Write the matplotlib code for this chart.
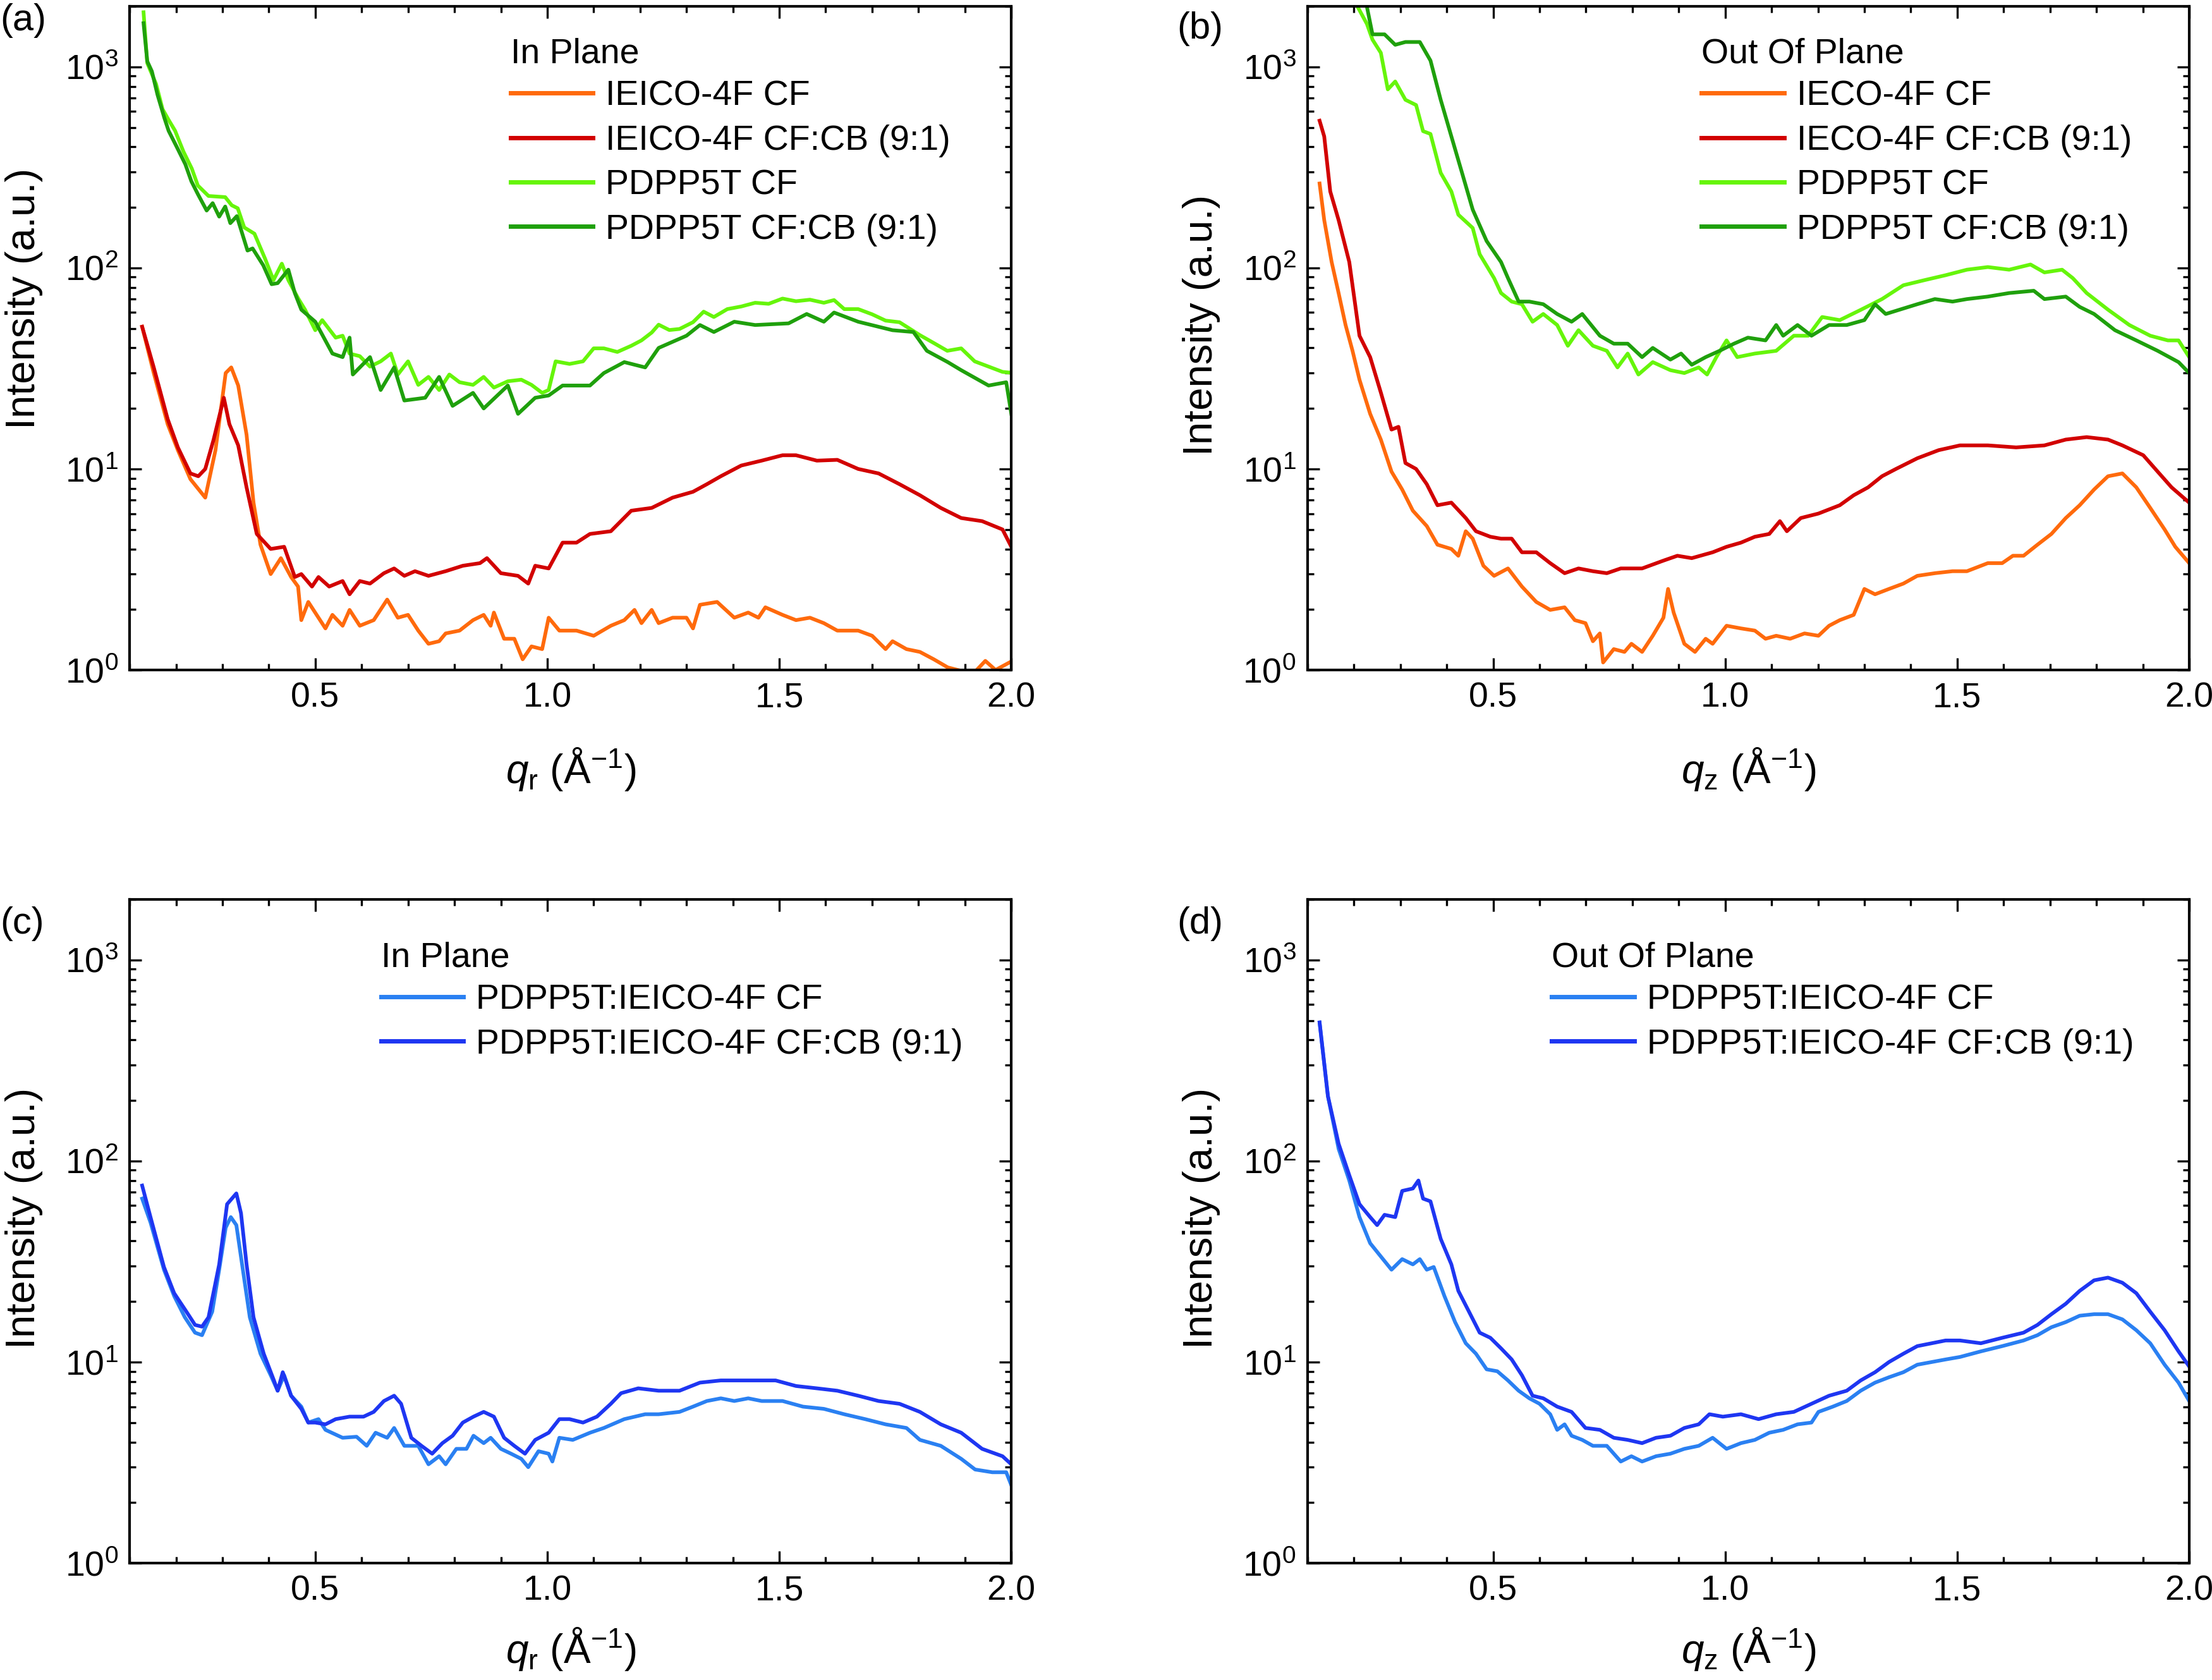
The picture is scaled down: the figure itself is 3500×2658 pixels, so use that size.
import numpy as np
import matplotlib
matplotlib.use('Agg')
import matplotlib.pyplot as plt
from matplotlib.ticker import FixedLocator, MultipleLocator, FormatStrFormatter, LogLocator, NullFormatter

plt.rcParams['font.family'] = ['Liberation Sans', 'DejaVu Sans']
plt.rcParams['mathtext.fontset'] = 'custom'
plt.rcParams['mathtext.rm'] = 'Liberation Sans'
plt.rcParams['mathtext.it'] = 'Liberation Sans:italic'
plt.rcParams['mathtext.bf'] = 'Liberation Sans:bold'

# ---------------- data ----------------
# (a) in plane, neat films
a_pcf_q = [0.130, 0.138, 0.157, 0.171, 0.184, 0.198, 0.216, 0.234, 0.247, 0.270, 0.306, 0.320, 0.333, 0.347,
           0.369, 0.392, 0.410, 0.428, 0.442, 0.464, 0.478, 0.500, 0.515, 0.544, 0.559, 0.574, 0.596, 0.618,
           0.641, 0.663, 0.678, 0.700, 0.722, 0.744, 0.767, 0.789, 0.811, 0.840, 0.863, 0.885, 0.915, 0.944,
           0.966, 0.989, 1.003, 1.018, 1.048, 1.077, 1.100, 1.122, 1.151, 1.181, 1.203, 1.225, 1.240, 1.263,
           1.285, 1.314, 1.337, 1.359, 1.388, 1.418, 1.448, 1.477, 1.507, 1.536, 1.566, 1.596, 1.618, 1.640,
           1.670, 1.700, 1.729, 1.759, 1.803, 1.833, 1.862, 1.892, 1.921, 1.951, 1.981, 2.000]
a_pcf_i = [1870, 1045, 822, 616, 545, 481, 379, 312, 257, 228, 225, 205, 198, 159,
           148, 111, 87, 105, 87, 70, 62, 49, 55, 45, 46, 37.5, 36.4, 32.3,
           34.3, 37.5, 29.5, 34.3, 26.2, 28.7, 24.7, 29.5, 27, 26.2, 28.7, 25.4, 27.3, 27.8,
           26.2, 23.9, 24.7, 34.3, 33.3, 34.3, 39.8, 39.8, 38.2, 41, 43.6, 47.7, 52.2, 49.1,
           49.7, 53.7, 60.6, 57, 62.4, 64.3, 67.1, 66.3, 70.4, 68.3, 69.5, 67.1, 69.2, 62.4,
           62.4, 58.8, 54.7, 53.7, 46.3, 42.3, 38.7, 39.8, 34.3, 32.3, 30.4, 30.1]

a_pcb_q = [0.130, 0.138, 0.148, 0.160, 0.175, 0.184, 0.202, 0.220, 0.233, 0.247, 0.266, 0.279, 0.293, 0.306,
           0.317, 0.331, 0.354, 0.365, 0.388, 0.406, 0.419, 0.442, 0.456, 0.470, 0.500, 0.537, 0.559, 0.574,
           0.581, 0.618, 0.641, 0.670, 0.692, 0.737, 0.767, 0.796, 0.840, 0.863, 0.915, 0.937, 0.974, 1.003,
           1.033, 1.092, 1.122, 1.166, 1.211, 1.240, 1.300, 1.329, 1.359, 1.403, 1.448, 1.520, 1.559, 1.596,
           1.618, 1.670, 1.744, 1.789, 1.818, 1.863, 1.892, 1.951, 1.989, 2.000]
a_pcb_i = [1650, 1067, 950, 728, 556, 481, 398, 328, 270, 233, 193, 210, 180, 202,
           167, 181, 122, 125, 103, 83, 84, 98, 75, 62, 54, 37.5, 36, 45,
           29.5, 36, 24.7, 32, 21.9, 22.6, 28.7, 20.6, 23.9, 20, 26, 18.8, 22.6, 23.2,
           26, 26, 30, 34, 32, 40, 46, 52, 48, 54, 52, 53, 59, 54,
           60, 54, 49, 48, 38.7, 34, 31, 26, 27, 18.8]

a_icf_q = [0.127, 0.152, 0.182, 0.204, 0.231, 0.263, 0.285, 0.307, 0.319, 0.334, 0.352, 0.367, 0.382, 0.404,
           0.426, 0.448, 0.463, 0.470, 0.485, 0.507, 0.522, 0.537, 0.559, 0.574, 0.596, 0.626, 0.655, 0.678,
           0.700, 0.722, 0.744, 0.767, 0.781, 0.811, 0.840, 0.863, 0.878, 0.885, 0.907, 0.929, 0.947, 0.966,
           0.989, 1.003, 1.026, 1.063, 1.100, 1.137, 1.166, 1.188, 1.203, 1.225, 1.240, 1.270, 1.300, 1.314,
           1.329, 1.366, 1.403, 1.433, 1.455, 1.470, 1.507, 1.536, 1.566, 1.596, 1.625, 1.670, 1.700, 1.729,
           1.744, 1.774, 1.803, 1.833, 1.863, 1.892, 1.920, 1.944, 1.966, 1.996]
a_icf_i = [51, 30, 16.7, 12.4, 8.9, 7.2, 12.4, 30, 32, 26, 14.8, 6.8, 4.2, 3.0,
           3.6, 2.9, 2.6, 1.77, 2.18, 1.82, 1.61, 1.88, 1.66, 1.99, 1.66, 1.77, 2.24, 1.82,
           1.88, 1.57, 1.35, 1.39, 1.52, 1.57, 1.77, 1.88, 1.66, 1.93, 1.43, 1.43, 1.13, 1.31,
           1.27, 1.82, 1.57, 1.57, 1.48, 1.66, 1.77, 1.99, 1.71, 1.99, 1.71, 1.82, 1.82, 1.61,
           2.11, 2.18, 1.82, 1.93, 1.82, 2.05, 1.88, 1.77, 1.82, 1.71, 1.57, 1.57, 1.48, 1.27,
           1.39, 1.27, 1.23, 1.13, 1.03, 0.99, 0.97, 1.11, 1.0, 1.09]

a_icb_q = [0.127, 0.152, 0.182, 0.204, 0.231, 0.248, 0.263, 0.281, 0.303, 0.315, 0.334, 0.352, 0.374, 0.404,
           0.433, 0.456, 0.470, 0.493, 0.507, 0.530, 0.559, 0.574, 0.596, 0.618, 0.648, 0.670, 0.692, 0.715,
           0.744, 0.781, 0.818, 0.855, 0.870, 0.900, 0.937, 0.959, 0.974, 1.003, 1.033, 1.063, 1.092, 1.137,
           1.181, 1.225, 1.270, 1.314, 1.344, 1.374, 1.418, 1.462, 1.507, 1.536, 1.581, 1.625, 1.670, 1.714,
           1.759, 1.803, 1.848, 1.892, 1.937, 1.981, 2.000]
a_icb_i = [51, 32, 17.7, 12.8, 9.5, 9.2, 10.0, 14, 22.6, 16.7, 13.1, 8.1, 4.75, 4.0,
           4.1, 2.9, 3.0, 2.6, 2.9, 2.6, 2.77, 2.38, 2.77, 2.69, 3.03, 3.2, 2.94, 3.1,
           2.94, 3.1, 3.3, 3.4, 3.6, 3.03, 2.94, 2.69, 3.3, 3.2, 4.3, 4.3, 4.75, 4.9,
           6.2, 6.4, 7.2, 7.7, 8.4, 9.2, 10.4, 11, 11.7, 11.7, 11, 11.1, 10, 9.5,
           8.4, 7.4, 6.4, 5.7, 5.5, 5.0, 4.1]

# (b) out of plane, neat films
b_pcf_q = [0.205, 0.228, 0.240, 0.258, 0.273, 0.289, 0.311, 0.334, 0.349, 0.365, 0.387, 0.410, 0.425, 0.456,
           0.471, 0.502, 0.517, 0.540, 0.562, 0.585, 0.608, 0.638, 0.661, 0.684, 0.715, 0.745, 0.768, 0.790,
           0.813, 0.844, 0.882, 0.912, 0.943, 0.961, 0.981, 1.003, 1.026, 1.064, 1.110, 1.148, 1.179, 1.209,
           1.247, 1.293, 1.338, 1.384, 1.430, 1.475, 1.521, 1.566, 1.612, 1.658, 1.688, 1.726, 1.749, 1.779,
           1.825, 1.871, 1.916, 1.954, 1.977, 2.000]
b_pcf_i = [2050, 1636, 1367, 1175, 773, 846, 686, 646, 479, 464, 297, 240, 184, 158,
           117, 89, 75, 68, 66, 54, 59, 52, 41, 49, 41, 38.7, 32, 37.5,
           29.5, 34, 31, 30, 32, 29.5, 36, 43.6, 36, 37.5, 38.7, 46, 46, 57,
           55, 62, 70, 82, 87, 92, 98, 101, 98, 104, 95, 98, 89, 75,
           62, 52, 46, 43.6, 43.6, 36]

b_pcb_q = [0.226, 0.240, 0.266, 0.289, 0.311, 0.342, 0.365, 0.387, 0.410, 0.433, 0.456, 0.486, 0.517, 0.532,
           0.555, 0.578, 0.608, 0.638, 0.669, 0.692, 0.730, 0.760, 0.790, 0.821, 0.844, 0.882, 0.905, 0.928,
           0.958, 0.988, 1.019, 1.049, 1.087, 1.110, 1.125, 1.156, 1.186, 1.224, 1.262, 1.300, 1.323, 1.346,
           1.376, 1.414, 1.452, 1.490, 1.521, 1.566, 1.612, 1.665, 1.688, 1.734, 1.764, 1.795, 1.840, 1.886,
           1.932, 1.977, 2.000]
b_pcb_i = [2100, 1452, 1452, 1288, 1330, 1330, 1075, 686, 451, 297, 195, 136, 107, 89,
           68, 68, 66, 59, 54, 59, 46, 42, 42, 36, 40, 35, 37.5, 33,
           36, 38.7, 42, 45, 43.6, 52, 46, 52, 46, 52, 52, 55, 66, 59,
           62, 66, 70, 68, 70, 72, 75, 77, 70, 72, 64, 59, 49, 43.6,
           38.7, 34, 30]

b_icf_q = [0.126, 0.136, 0.152, 0.167, 0.182, 0.197, 0.212, 0.235, 0.258, 0.281, 0.304, 0.327, 0.357, 0.380,
           0.410, 0.425, 0.441, 0.456, 0.479, 0.502, 0.532, 0.562, 0.593, 0.623, 0.654, 0.676, 0.699, 0.715,
           0.730, 0.737, 0.760, 0.783, 0.798, 0.821, 0.844, 0.867, 0.877, 0.889, 0.912, 0.935, 0.958, 0.973,
           1.003, 1.034, 1.064, 1.087, 1.110, 1.140, 1.171, 1.201, 1.224, 1.247, 1.277, 1.300, 1.323, 1.353,
           1.384, 1.414, 1.452, 1.490, 1.521, 1.566, 1.597, 1.620, 1.643, 1.673, 1.703, 1.734, 1.764, 1.795,
           1.825, 1.856, 1.886, 1.916, 1.947, 1.970, 2.000]
b_icf_i = [263, 173, 107, 75, 52, 38.7, 27.8, 18.8, 14, 9.7, 7.9, 6.2, 5.2, 4.2,
           4.0, 3.7, 4.9, 4.5, 3.3, 2.94, 3.2, 2.6, 2.18, 1.99, 2.05, 1.77, 1.71, 1.39,
           1.52, 1.09, 1.27, 1.23, 1.35, 1.23, 1.48, 1.82, 2.53, 1.93, 1.35, 1.23, 1.43, 1.35,
           1.66, 1.61, 1.57, 1.43, 1.48, 1.43, 1.52, 1.48, 1.66, 1.77, 1.88, 2.53, 2.38, 2.53,
           2.69, 2.94, 3.03, 3.1, 3.1, 3.4, 3.4, 3.7, 3.7, 4.2, 4.75, 5.7, 6.6, 7.9,
           9.2, 9.5, 8.1, 6.4, 5.0, 4.1, 3.4]

b_icb_q = [0.126, 0.136, 0.149, 0.167, 0.190, 0.212, 0.235, 0.258, 0.281, 0.296, 0.311, 0.334, 0.357, 0.380,
           0.410, 0.441, 0.463, 0.494, 0.517, 0.540, 0.562, 0.593, 0.623, 0.654, 0.684, 0.715, 0.745, 0.775,
           0.821, 0.867, 0.897, 0.928, 0.973, 1.003, 1.034, 1.064, 1.095, 1.118, 1.133, 1.163, 1.201, 1.247,
           1.277, 1.308, 1.338, 1.368, 1.414, 1.460, 1.506, 1.566, 1.627, 1.688, 1.734, 1.779, 1.825, 1.856,
           1.901, 1.932, 1.962, 2.000]
b_icb_i = [540, 451, 240, 173, 107, 46, 36, 24, 15.7, 16.2, 10.7, 10.0, 8.4, 6.6,
           6.8, 5.7, 4.9, 4.6, 4.5, 4.5, 3.85, 3.85, 3.4, 3.03, 3.2, 3.1, 3.03, 3.2,
           3.2, 3.5, 3.7, 3.6, 3.85, 4.1, 4.3, 4.6, 4.75, 5.5, 4.9, 5.7, 6.0, 6.6,
           7.4, 8.1, 9.2, 10.0, 11.3, 12.4, 13.1, 13.1, 12.8, 13.1, 14, 14.4, 14, 13.1,
           11.7, 9.7, 8.1, 6.8]

# (c) in plane, blends
c_cf_q = [0.127, 0.145, 0.174, 0.196, 0.219, 0.241, 0.256, 0.278, 0.293, 0.307, 0.318, 0.330, 0.344, 0.359,
          0.382, 0.404, 0.419, 0.433, 0.448, 0.470, 0.485, 0.507, 0.522, 0.559, 0.589, 0.611, 0.630, 0.655,
          0.670, 0.692, 0.722, 0.744, 0.767, 0.781, 0.804, 0.826, 0.841, 0.863, 0.878, 0.900, 0.922, 0.944,
          0.959, 0.981, 1.003, 1.011, 1.026, 1.055, 1.092, 1.122, 1.166, 1.211, 1.240, 1.285, 1.314, 1.344,
          1.374, 1.403, 1.433, 1.462, 1.507, 1.551, 1.596, 1.640, 1.685, 1.729, 1.774, 1.803, 1.848, 1.892,
          1.922, 1.959, 1.989, 2.000]
c_cf_i = [65, 49.5, 28.8, 21.3, 16.7, 14, 13.6, 17.8, 28.8, 46.6, 52.6, 48, 28.8, 16.7,
          11, 8.6, 7.2, 8.6, 6.8, 6.0, 5.0, 5.2, 4.6, 4.2, 4.25, 3.83, 4.45, 4.2,
          4.7, 3.83, 3.83, 3.1, 3.4, 3.1, 3.7, 3.7, 4.3, 3.95, 4.2, 3.7, 3.5, 3.3,
          3.0, 3.6, 3.5, 3.2, 4.2, 4.1, 4.45, 4.7, 5.2, 5.5, 5.5, 5.65, 6.0, 6.4,
          6.6, 6.4, 6.6, 6.4, 6.4, 6.0, 5.85, 5.5, 5.2, 4.9, 4.7, 4.1, 3.83, 3.3,
          2.92, 2.83, 2.83, 2.44]

c_cb_q = [0.127, 0.145, 0.174, 0.196, 0.219, 0.241, 0.256, 0.270, 0.293, 0.310, 0.330, 0.340, 0.352, 0.367,
          0.389, 0.411, 0.419, 0.430, 0.448, 0.470, 0.485, 0.500, 0.522, 0.544, 0.574, 0.604, 0.626, 0.648,
          0.670, 0.685, 0.707, 0.729, 0.752, 0.774, 0.796, 0.818, 0.841, 0.863, 0.885, 0.907, 0.929, 0.952,
          0.974, 1.003, 1.026, 1.048, 1.077, 1.107, 1.137, 1.159, 1.196, 1.240, 1.285, 1.329, 1.374, 1.418,
          1.448, 1.492, 1.536, 1.581, 1.625, 1.670, 1.714, 1.759, 1.803, 1.848, 1.892, 1.937, 1.981, 2.000]
c_cb_i = [75.5, 52.6, 29.7, 22, 18.3, 15.3, 15, 16.7, 30.6, 61, 69, 55, 30.6, 16.7,
          11, 8.1, 7.2, 8.9, 6.8, 5.85, 5.0, 5.0, 4.9, 5.2, 5.35, 5.35, 5.65, 6.4,
          6.8, 6.2, 4.2, 3.83, 3.5, 3.95, 4.3, 5.0, 5.35, 5.65, 5.35, 4.2, 3.83, 3.5,
          4.1, 4.45, 5.2, 5.2, 5.0, 5.35, 6.2, 7.0, 7.4, 7.2, 7.2, 7.9, 8.1, 8.1,
          8.1, 8.1, 7.6, 7.4, 7.2, 6.8, 6.4, 6.2, 5.65, 4.9, 4.45, 3.7, 3.4, 3.1]

# (d) out of plane, blends
d_cf_q = [0.126, 0.144, 0.167, 0.190, 0.212, 0.235, 0.258, 0.281, 0.304, 0.327, 0.342, 0.357, 0.372, 0.395,
          0.418, 0.441, 0.463, 0.486, 0.509, 0.532, 0.555, 0.578, 0.600, 0.623, 0.638, 0.654, 0.669, 0.692,
          0.715, 0.745, 0.760, 0.775, 0.798, 0.821, 0.851, 0.882, 0.912, 0.943, 0.973, 1.003, 1.034, 1.064,
          1.095, 1.125, 1.156, 1.186, 1.201, 1.232, 1.262, 1.292, 1.323, 1.353, 1.384, 1.414, 1.445, 1.475,
          1.506, 1.551, 1.597, 1.643, 1.673, 1.703, 1.734, 1.764, 1.795, 1.825, 1.856, 1.886, 1.916, 1.947,
          1.977, 2.000]
d_cf_i = [489, 210, 115, 80, 52.6, 39, 33.5, 28.8, 32.5, 30.6, 32.5, 28.8, 29.7, 21.3,
          15.8, 12.4, 11, 9.2, 9.0, 8.1, 7.2, 6.6, 6.2, 5.5, 4.6, 4.9, 4.3, 4.1,
          3.83, 3.83, 3.5, 3.2, 3.4, 3.2, 3.4, 3.5, 3.7, 3.83, 4.2, 3.7, 3.95, 4.1,
          4.45, 4.6, 4.9, 5.0, 5.65, 6.0, 6.4, 7.2, 7.9, 8.4, 8.9, 9.7, 10, 10.3,
          10.6, 11.3, 12.0, 12.8, 13.6, 14.9, 15.8, 17, 17.3, 17.3, 16.3, 14.4, 12.4, 9.7,
          7.9, 6.4]

d_cb_q = [0.126, 0.144, 0.167, 0.190, 0.212, 0.235, 0.250, 0.266, 0.289, 0.304, 0.327, 0.339, 0.349, 0.365,
          0.387, 0.410, 0.425, 0.448, 0.471, 0.494, 0.517, 0.540, 0.562, 0.585, 0.608, 0.638, 0.669, 0.699,
          0.730, 0.760, 0.790, 0.821, 0.851, 0.882, 0.912, 0.943, 0.966, 0.995, 1.034, 1.072, 1.110, 1.148,
          1.186, 1.224, 1.262, 1.292, 1.323, 1.353, 1.384, 1.414, 1.445, 1.475, 1.506, 1.551, 1.597, 1.643,
          1.673, 1.703, 1.734, 1.764, 1.795, 1.825, 1.856, 1.886, 1.916, 1.947, 1.977, 2.000]
d_cb_i = [489, 210, 122, 85, 61, 52.6, 48, 54, 52.6, 71, 73, 80, 65, 63,
          41, 30.6, 22.6, 17.8, 14, 13.2, 11.7, 10.3, 8.6, 6.8, 6.6, 6.0, 5.65, 4.7,
          4.6, 4.2, 4.1, 3.95, 4.2, 4.3, 4.7, 4.9, 5.5, 5.35, 5.5, 5.2, 5.5, 5.65,
          6.2, 6.8, 7.2, 8.1, 8.9, 10.0, 11, 12, 12.4, 12.8, 12.8, 12.4, 13.2, 14,
          15.3, 17.3, 19.5, 22.6, 25.5, 26.3, 24.8, 22, 17.8, 14.4, 11.3, 9.5]

labels_in_a = ['IEICO-4F CF', 'IEICO-4F CF:CB (9:1)', 'PDPP5T CF', 'PDPP5T CF:CB (9:1)']
labels_out_b = ['IECO-4F CF', 'IECO-4F CF:CB (9:1)', 'PDPP5T CF', 'PDPP5T CF:CB (9:1)']
labels_blend = ['PDPP5T:IEICO-4F CF', 'PDPP5T:IEICO-4F CF:CB (9:1)']
neat_colors = ['#FF6A0C', '#D20000', '#66F50A', '#1FA00C']
blend_colors = ['#2A80F2', '#1E36F2']

LW = 4.2
TICK_FS = 40
LEG_FS = 40
XLABEL_FS = 46
YLABEL_FS = 47

fig = plt.figure(figsize=(35, 26.58), dpi=100)
ax_a = fig.add_axes([0.0586, 0.6012, 0.3986, 0.395])
ax_b = fig.add_axes([0.5911, 0.6012, 0.3986, 0.395])
ax_c = fig.add_axes([0.0586, 0.0696, 0.3986, 0.395])
ax_d = fig.add_axes([0.5911, 0.0696, 0.3986, 0.395])


def style_axes(ax, xlabel, xlabel_y, ylabel_y):
    ax.set_yscale('log')
    ax.set_xlim(0.1, 2.0)
    ax.set_ylim(1, 2000)
    ax.xaxis.set_major_locator(FixedLocator([0.5, 1.0, 1.5, 2.0]))
    ax.xaxis.set_minor_locator(MultipleLocator(0.1))
    ax.xaxis.set_major_formatter(FormatStrFormatter('%.1f'))
    ax.yaxis.set_major_locator(LogLocator(base=10, numticks=10))
    ax.yaxis.set_minor_locator(LogLocator(base=10, subs=np.arange(2, 10), numticks=20))
    ax.yaxis.set_minor_formatter(NullFormatter())
    ax.tick_params(which='both', direction='in', top=True, right=True, width=2.4)
    ax.tick_params(which='major', length=14, labelsize=TICK_FS, pad=13)
    ax.tick_params(which='minor', length=7.5)
    for s in ax.spines.values():
        s.set_linewidth(3)
    ax.set_xlabel(xlabel, fontsize=XLABEL_FS, va='center')
    ax.xaxis.set_label_coords(0.5, xlabel_y)
    ax.set_ylabel('Intensity (a.u.)', fontsize=YLABEL_FS, ha='center', va='center')
    ax.yaxis.set_label_coords(-0.12, ylabel_y)


def add_legend(ax, title, x, y):
    leg = ax.legend(title=title, loc='upper left', bbox_to_anchor=(x, y), frameon=False,
                    fontsize=LEG_FS, title_fontsize=LEG_FS, handlelength=2.35,
                    handletextpad=0.36, labelspacing=0.33, borderpad=0, borderaxespad=0,
                    alignment='left')
    leg._legend_box.sep = 11
    for line in leg.get_lines():
        line.set_linewidth(5)


# (a)
ax_a.plot(a_icf_q, a_icf_i, color=neat_colors[0], lw=LW, label=labels_in_a[0])
ax_a.plot(a_icb_q, a_icb_i, color=neat_colors[1], lw=LW, label=labels_in_a[1])
ax_a.plot(a_pcf_q, a_pcf_i, color=neat_colors[2], lw=LW, label=labels_in_a[2])
ax_a.plot(a_pcb_q, a_pcb_i, color=neat_colors[3], lw=LW, label=labels_in_a[3])
style_axes(ax_a, r'$q_\mathrm{r}$ (Å$^{-1}$)', -0.15, 0.56)
add_legend(ax_a, 'In Plane', 0.432, 0.953)

# (b)
ax_b.plot(b_icf_q, b_icf_i, color=neat_colors[0], lw=LW, label=labels_out_b[0])
ax_b.plot(b_icb_q, b_icb_i, color=neat_colors[1], lw=LW, label=labels_out_b[1])
ax_b.plot(b_pcf_q, b_pcf_i, color=neat_colors[2], lw=LW, label=labels_out_b[2])
ax_b.plot(b_pcb_q, b_pcb_i, color=neat_colors[3], lw=LW, label=labels_out_b[3])
style_axes(ax_b, r'$q_\mathrm{z}$ (Å$^{-1}$)', -0.15, 0.52)
add_legend(ax_b, 'Out Of Plane', 0.447, 0.953)

# (c)
ax_c.plot(c_cf_q, c_cf_i, color=blend_colors[0], lw=LW, label=labels_blend[0])
ax_c.plot(c_cb_q, c_cb_i, color=blend_colors[1], lw=LW, label=labels_blend[1])
style_axes(ax_c, r'$q_\mathrm{r}$ (Å$^{-1}$)', -0.13, 0.52)
add_legend(ax_c, 'In Plane', 0.285, 0.937)

# (d)
ax_d.plot(d_cf_q, d_cf_i, color=blend_colors[0], lw=LW, label=labels_blend[0])
ax_d.plot(d_cb_q, d_cb_i, color=blend_colors[1], lw=LW, label=labels_blend[1])
style_axes(ax_d, r'$q_\mathrm{z}$ (Å$^{-1}$)', -0.13, 0.52)
add_legend(ax_d, 'Out Of Plane', 0.277, 0.937)

# panel letters
fig.text(0.0, 0.9876, '(a)', fontsize=43, ha='left', va='center')
fig.text(0.532, 0.983, '(b)', fontsize=43, ha='left', va='center')
fig.text(0.0, 0.450, '(c)', fontsize=43, ha='left', va='center')
fig.text(0.532, 0.450, '(d)', fontsize=43, ha='left', va='center')

fig.savefig('out.png', dpi=100)
